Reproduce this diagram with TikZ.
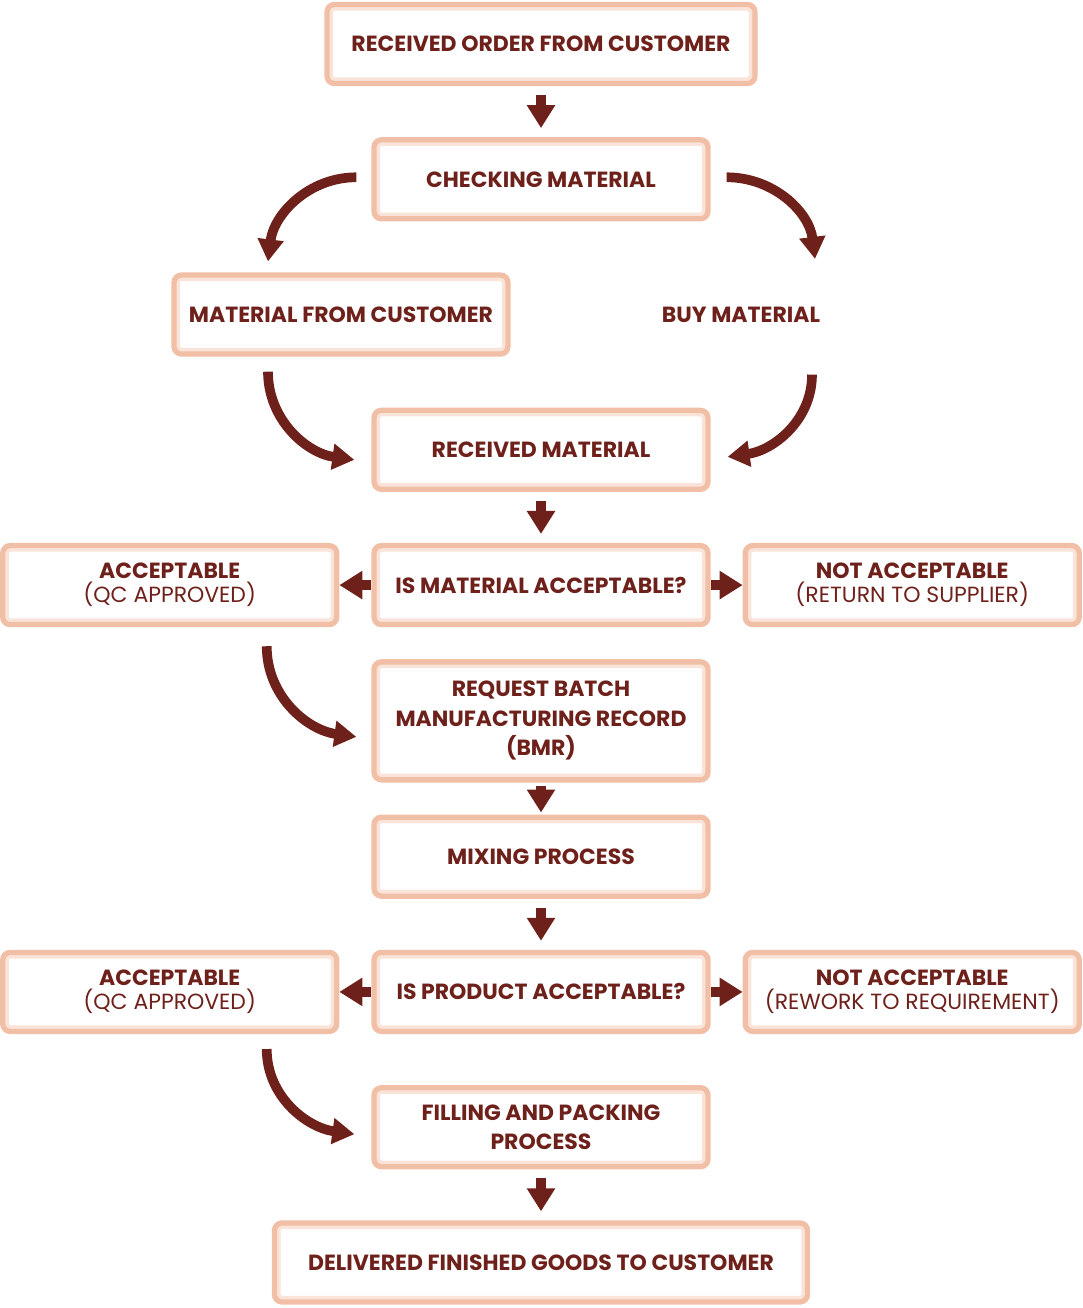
\documentclass[tikz,border=0pt]{standalone}
\usepackage{fontspec}
\setmainfont{Poppins}
\usetikzlibrary{arrows.meta,calc,positioning}
\definecolor{maroon}{HTML}{6E211B}
\definecolor{peach}{HTML}{F1BEA6}
\definecolor{peachpale}{HTML}{FAE4D9}

\begin{document}
\begin{tikzpicture}[node distance=10.2mm and 6.4mm, every node/.style={font=\fontsize{12.5}{16.8}\selectfont\bfseries,align=center,text=maroon},
  s/.style={rounded corners=1.5mm,draw=peach,line width=3pt,fill=white,minimum width=6.68cm,minimum height=1.58cm,inner sep=0pt,
    path picture={\draw[peachpale,line width=7pt,rounded corners=1.5mm] (path picture bounding box.south west) rectangle (path picture bounding box.north east);}},
  two/.style={font=\fontsize{12.5}{13.8}\selectfont\bfseries},
  a/.style={-{Triangle[length=4.6mm,width=5.4mm]},draw=maroon,line width=6pt},
  c/.style={-{Triangle[length=4.4mm,width=5mm]},draw=maroon,line width=5.5pt}]
  \useasboundingbox (-10.82,0.88) rectangle (10.84,-25.28);
  \node[s,minimum width=8.56cm] (ord) at (0,0) {RECEIVED ORDER FROM CUSTOMER};
  \node[s,below=of ord] (chk) {CHECKING MATERIAL};
  \node[s,below=of chk,xshift=-4cm] (mfc) {MATERIAL FROM CUSTOMER};
  \node[below=of chk,xshift=4cm,minimum height=1.68cm] (buy) {BUY MATERIAL};
  \node[s,below=of mfc,xshift=4cm] (rcv) {RECEIVED MATERIAL};
  \node[s,below=of rcv] (qcm) {IS MATERIAL ACCEPTABLE?};
  \node[s,two,left=of qcm] (okm) {ACCEPTABLE\\\mdseries(QC APPROVED)};
  \node[s,two,right=of qcm] (nom) {NOT ACCEPTABLE\\\mdseries(RETURN TO SUPPLIER)};
  \node[s,below=6.4mm of qcm,minimum height=2.36cm] (bmr) {REQUEST BATCH\\MANUFACTURING RECORD\\(BMR)};
  \node[s,below=6.4mm of bmr] (mix) {MIXING PROCESS};
  \node[s,below=of mix] (qcp) {IS PRODUCT ACCEPTABLE?};
  \node[s,two,left=of qcp] (okp) {ACCEPTABLE\\\mdseries(QC APPROVED)};
  \node[s,two,right=of qcp] (nop) {NOT ACCEPTABLE\\\mdseries(REWORK TO REQUIREMENT)};
  \node[s,below=of qcp] (fil) {FILLING AND PACKING\\PROCESS};
  \node[s,below=of fil,minimum width=10.66cm] (dlv) {DELIVERED FINISHED GOODS TO CUSTOMER};
  % straight arrows
  \draw[a,shorten <=1.8mm,shorten >=1.8mm] (ord) -- (chk);
  \draw[a,shorten <=1.8mm,shorten >=1.8mm] (rcv) -- (qcm);
  \draw[a,shorten <=0.6mm,shorten >=0.4mm] (bmr) -- (mix);
  \draw[a,shorten <=1.8mm,shorten >=1.8mm] (mix) -- (qcp);
  \draw[a,shorten <=1.8mm,shorten >=1.8mm] (fil) -- (dlv);
  \draw[a] (qcm) -- (okm);
  \draw[a] (qcm) -- (nom);
  \draw[a] (qcp) -- (okp);
  \draw[a] (qcp) -- (nop);
  % curved arrows
  \draw[c] ($(chk.west)+(-0.3,0.04)$) to[out=180,in=83] ($(mfc.north)+(-1.46,0.22)$);
  \draw[c] ($(chk.east)+(0.32,0.04)$) to[out=0,in=97] ($(buy.north)+(1.48,0.27)$);
  \draw[c] ($(mfc.south)+(-1.46,-0.3)$) to[out=-90,in=172] ($(rcv.west)+(-0.34,-0.2)$);
  \draw[c] ($(buy.south)+(1.42,-0.35)$) to[out=-90,in=8] ($(rcv.east)+(0.34,-0.14)$);
  \draw[c] ($(okm.south)+(1.94,-0.38)$) to[out=-90,in=172] ($(bmr.west)+(-0.3,-0.32)$);
  \draw[c] ($(okp.south)+(1.94,-0.3)$) to[out=-90,in=172] ($(fil.west)+(-0.34,-0.14)$);
\end{tikzpicture}
\end{document}
